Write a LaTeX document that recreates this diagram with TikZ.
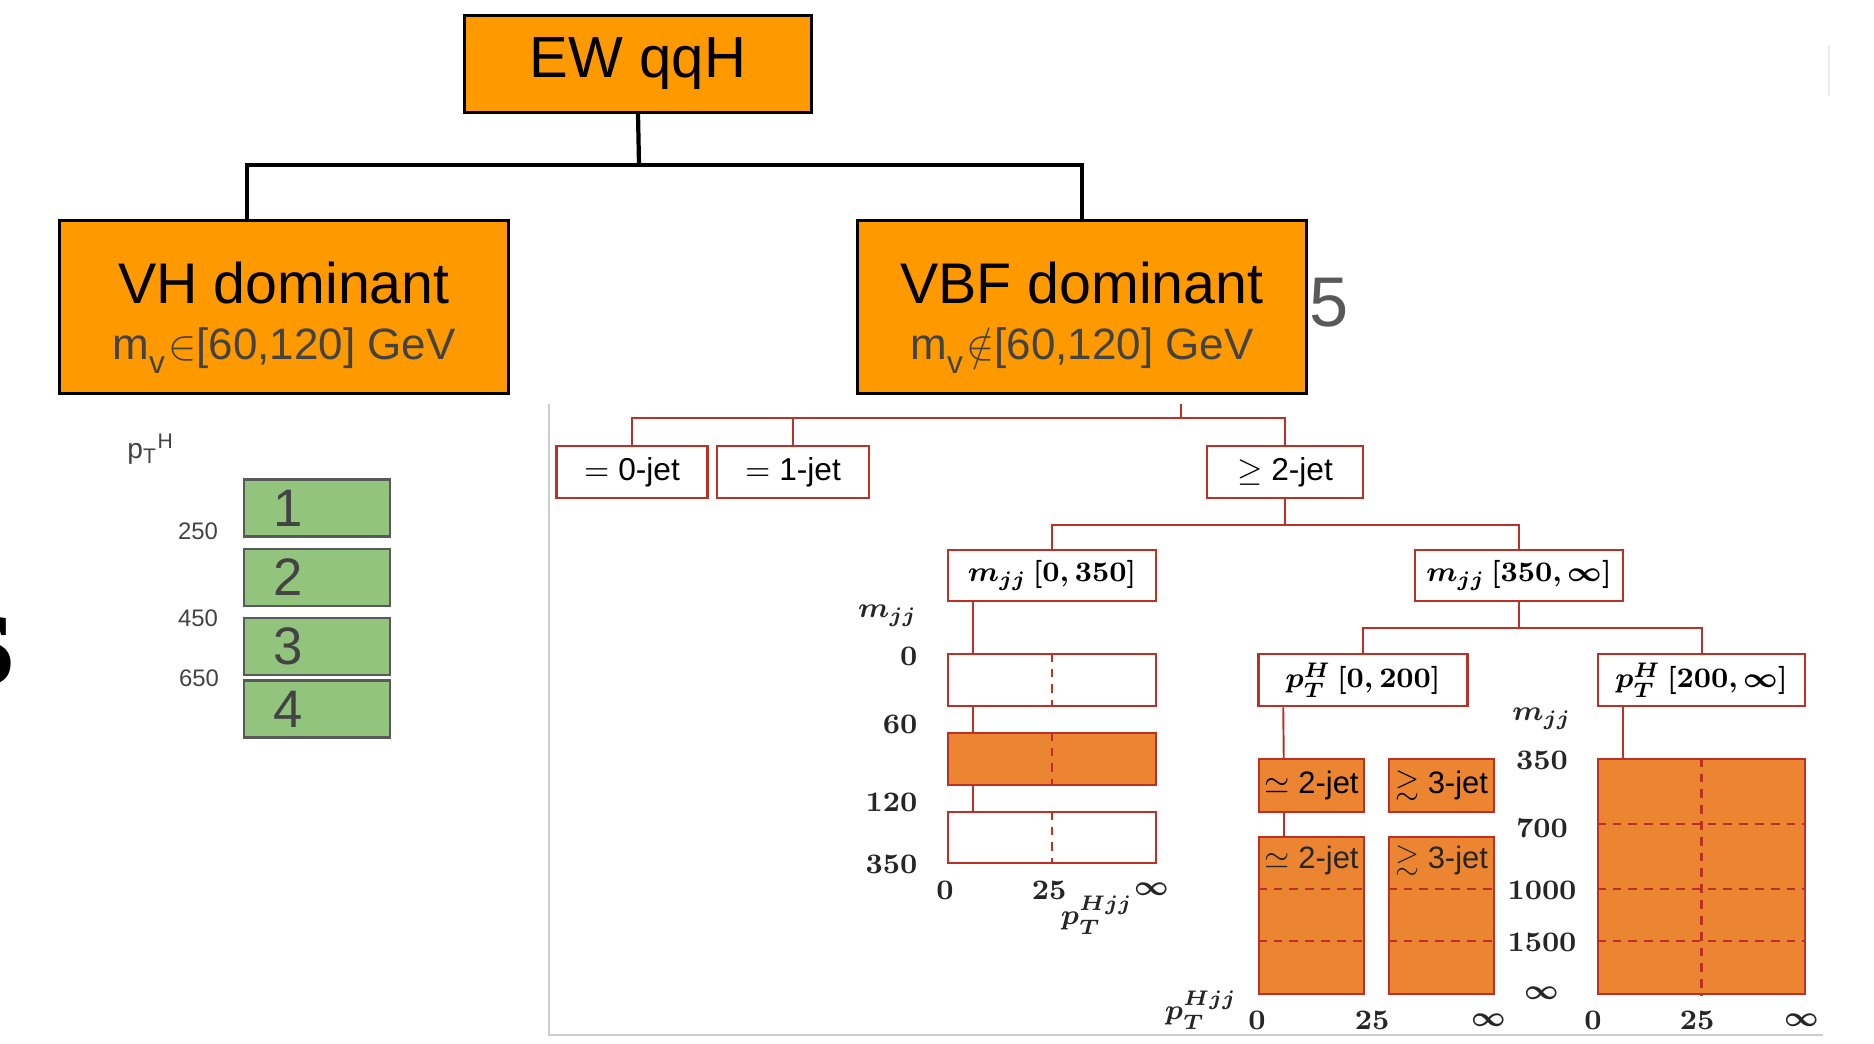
\documentclass[tikz,border=0pt]{standalone}
\usepackage[no-math]{fontspec}
\setmainfont{Liberation Sans}
\newfontfamily\cutfont{Liberation Serif}
\usepackage{amssymb}
\usetikzlibrary{positioning,calc}
\definecolor{ewor}{RGB}{255,153,0}
\definecolor{subgray}{RGB}{67,67,67}
\definecolor{fivegray}{RGB}{89,89,89}
\definecolor{bingreen}{RGB}{147,196,125}
\definecolor{binedge}{RGB}{89,89,89}
\definecolor{catred}{RGB}{188,48,40}
\definecolor{catorange}{RGB}{236,133,50}
\definecolor{framegray}{RGB}{205,205,205}
\newcommand{\lowv}{\raisebox{-4pt}{\fontsize{9}{10}\selectfont v}\kern1pt}

\begin{document}
\begin{tikzpicture}[x=0.01cm,y=-0.01cm,
    topbox/.style={draw=black,line width=0.9pt,fill=ewor,inner sep=0pt,align=center},
    treeline/.style={draw=black,line width=1.2pt},
    binbox/.style={draw=binedge,line width=0.8pt,fill=bingreen,text=subgray,
                   text width=0.86cm,inner xsep=0.3cm,inner ysep=0pt,align=left,
                   minimum height=0.57cm,font=\fontsize{15}{17}\selectfont},
    binlab/.style={inner sep=0pt,text=subgray,font=\fontsize{6.8}{8}\selectfont},
    catbox/.style={draw=catred,line width=0.7pt,fill=white,inner sep=0pt,
                   font=\fontsize{9}{11}\selectfont},
    catfill/.style={catbox,fill=catorange},
    cattext/.style={inner sep=0pt,text=black!85,font=\fontsize{8.8}{11}\selectfont},
    catline/.style={draw=catred,line width=0.55pt},
    catdash/.style={draw=catred,line width=0.6pt,dash pattern=on 2.5pt off 2pt},
    axlab/.style={inner sep=0pt,text=black!85,font=\fontsize{8.5}{10}\selectfont\boldmath},
    mathbox/.style={catbox,font=\fontsize{8.5}{10}\selectfont\boldmath}]

\useasboundingbox (0,0) rectangle (1874,1043);

\node[topbox,minimum width=3.47cm,minimum height=0.97cm,
      font=\fontsize{16.5}{20}\selectfont] (ew) at (638,64) {EW qqH};
\node[topbox,minimum width=4.49cm,minimum height=1.73cm] (vh) at (284,307)
  {{\fontsize{16.3}{19}\selectfont\rule{0pt}{18pt}VH dominant}\\[4pt]
   {\color{subgray}\fontsize{12.5}{15}\selectfont m\lowv$\in$[60,120] GeV}};
\node[topbox,minimum width=4.49cm,minimum height=1.73cm] (vbf) at (1082,307)
  {{\fontsize{16.3}{19}\selectfont\rule{0pt}{18pt}VBF dominant}\\[4pt]
   {\color{subgray}\fontsize{12.5}{15}\selectfont m\lowv$\notin$[60,120] GeV}};
\coordinate (split) at (639,165);
\draw[treeline] (ew.south) -- (split);
\draw[treeline] ($(vh.north)+(-37,0)$) |- (split) -| (vbf.north);

\node[inner sep=0pt,text=fivegray,font=\fontsize{20}{24}\selectfont] (five) at (1329,303) {5};
\node[inner sep=0pt,anchor=base east,font=\cutfont\bfseries\fontsize{41}{44}\selectfont] (cut) at (15,684) {s};
\draw[draw=black!7] (1829,45) -- (1829,96);

\node[binbox] (bin1) at (317,508) {1};
\node[binbox] (bin2) at (317,577.5) {2};
\node[binbox] (bin3) at (317,646.5) {3};
\node[binbox] (bin4) at (317,709) {4};
\node[binlab,font=\fontsize{8}{9}\selectfont] (ptlab) at (151,449) {p\textsubscript{T}\textsuperscript{H}};
\node[binlab] (t250) at (198,531) {250};
\node[binlab] (t450) at (198,618) {450};
\node[binlab] (t650) at (199,678) {650};

\draw[draw=framegray,line width=0.5pt] (549,404) -- (549,1035) -- (1823,1035);

\node[catbox,minimum width=1.51cm,minimum height=0.52cm] (j0) at (632,472) {$=$ 0-jet};
\node[catbox,minimum width=1.52cm,minimum height=0.52cm] (j1) at (793,472) {$=$ 1-jet};
\node[catbox,minimum width=1.56cm,minimum height=0.52cm] (j2) at (1285,472) {$\geq$ 2-jet};
\node[mathbox,minimum width=2.08cm,minimum height=0.51cm] (mlo) at (1052,575.5) {$m_{jj}\,[0,350]$};
\node[mathbox,minimum width=2.08cm,minimum height=0.51cm] (mhi) at (1519,575.5) {$m_{jj}\,[350,\infty]$};
\node[mathbox,minimum width=2.09cm,minimum height=0.52cm] (plo) at (1363,680) {$p_T^H\,[0,200]$};
\node[mathbox,minimum width=2.07cm,minimum height=0.52cm] (phi) at (1701.5,680) {$p_T^H\,[200,\infty]$};

\coordinate (vbfin) at (1181,404);
\coordinate (rsplit) at (1181,418);
\draw[catline] (vbfin) -- (rsplit);
\draw[catline] (j0.north) |- (rsplit) -| (j2.north);
\draw[catline] (j1.north) -- (j1.north |- rsplit);
\draw[catline] (j2.south) -- ++(0,26) coordinate (j2s);
\draw[catline] (mlo.north) |- (j2s) -| (mhi.north);
\draw[catline] (mhi.south) -- ++(0,26) coordinate (mhis);
\draw[catline] (plo.north) |- (mhis) -| (phi.north);

\node[catbox,minimum width=2.08cm,minimum height=0.52cm] (lw1) at (1052,680) {};
\node[catfill,minimum width=2.08cm,minimum height=0.52cm] (lw2) at (1052,759) {};
\node[catbox,minimum width=2.08cm,minimum height=0.51cm] (lw3) at (1052,837.5) {};
\draw[catline] ($(mlo.south west)+(26,0)$) -- ($(lw1.north west)+(26,0)$);
\draw[catline] ($(lw1.south west)+(26,0)$) -- ($(lw2.north west)+(26,0)$);
\draw[catline] ($(lw2.south west)+(26,0)$) -- ($(lw3.north west)+(26,0)$);
\foreach \b in {lw1,lw2,lw3}
  \draw[catdash] (\b.north) -- (\b.south);

\node[axlab,anchor=east] (mlab) at (918,616) {$m_{jj}$};
\foreach \v/\y in {0/656,60/724,120/802,350/864}
  \node[axlab,anchor=east] (ml\v) at (918,\y) {$\v$};
\node[axlab] (lb0) at (945,890) {$0$};
\node[axlab] (lb25) at (1049,890) {$25$};
\node[axlab] (lbinf) at (1152,889) {$\infty$};
\node[axlab] (lptj) at (1097,915) {$p_T^{Hjj}$};

\node[catfill,minimum width=1.05cm,minimum height=0.53cm,font=\fontsize{8.8}{11}\selectfont] (s2a) at (1311.5,785.5) {$\simeq$ 2-jet};
\node[catfill,minimum width=1.05cm,minimum height=0.53cm,font=\fontsize{8.8}{11}\selectfont] (g3a) at (1441.5,785.5) {$\gtrsim$ 3-jet};
\node[catfill,minimum width=1.05cm,minimum height=1.57cm] (s2b) at (1311.5,915.5) {};
\node[catfill,minimum width=1.05cm,minimum height=1.57cm] (g3b) at (1441.5,915.5) {};
\node[cattext] (s2bt) at ($(s2b.north)+(0,25)$) {$\simeq$ 2-jet};
\node[cattext] (g3bt) at ($(g3b.north)+(0,25)$) {$\gtrsim$ 3-jet};
\draw[catline] ($(plo.south west)+(26,0)$) -- ($(s2a.north west)+(26,0)$);
\draw[catline] ($(s2a.south west)+(26,0)$) -- ($(s2b.north west)+(26,0)$);
\foreach \b in {s2b,g3b}
  \foreach \d in {53,105}
    \draw[catdash] ($(\b.north west)+(0,\d)$) -- ($(\b.north east)+(0,\d)$);

\node[catfill,minimum width=2.07cm,minimum height=2.35cm] (big) at (1701.5,876.5) {};
\draw[catline] ($(phi.south west)+(26,0)$) -- ($(big.north west)+(26,0)$);
\draw[catdash] (big.north) -- (big.south);
\foreach \d in {66,131,183}
  \draw[catdash] ($(big.north west)+(0,\d)$) -- ($(big.north east)+(0,\d)$);

\node[axlab] (mrlab) at (1542,719) {$m_{jj}$};
\foreach \v/\y in {350/760,700/828,1000/890,1500/942}
  \node[axlab] (mr\v) at (1542,\y) {$\v$};
\node[axlab] (mrinf) at (1542,993) {$\infty$};
\node[axlab] (rptj) at (1201,1010) {$p_T^{Hjj}$};
\foreach \n/\v/\x in {a/0/1257,b/25/1372,c/\infty/1489,d/0/1593,e/25/1697,f/\infty/1802}
  \node[axlab] (rb\n) at (\x,1020) {$\v$};
\end{tikzpicture}
\end{document}
